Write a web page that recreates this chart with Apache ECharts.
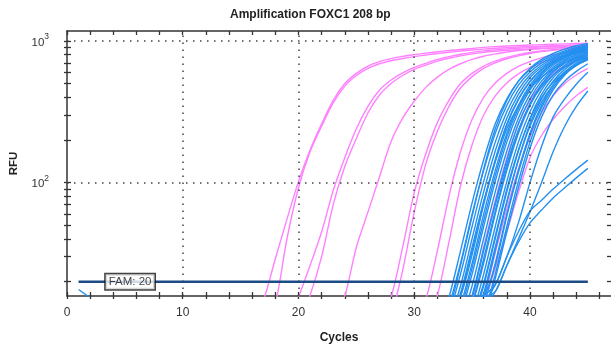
<!DOCTYPE html>
<html>
<head>
<meta charset="utf-8">
<script src="https://cdn.jsdelivr.net/npm/echarts@6/dist/echarts.min.js"></script>
<style>
  html, body { margin: 0; background: #fff; }
  #chart { width: 611px; height: 349px; }
</style>
</head>
<body>
<div id="chart"></div>
<script>
// axis ranges and ticks
const cycleMax = 47.0
const rfuMin = 15.84
const rfuMax = 1175
const cycleTicks = [0, 2, 4, 6, 8, 10, 12, 14, 16, 18, 20, 22, 24, 26, 28, 30, 32, 34, 36, 38, 40, 42, 44, 46]
const cycleLabels = [0, 10, 20, 30, 40]
const cycleGrid = [10, 20, 30, 40]
const rfuTicks = [20, 30, 40, 50, 60, 70, 80, 90, 100, 200, 300, 400, 500, 600, 700, 800, 900, 1000]
const rfuLabels = [100, 1000]
const rfuGrid = [100, 1000]

const threshold = 20
const thresholdFrom = 1
const thresholdTo = 45
const thresholdTag = 5.45

// pink wells: first cycle of each list, then RFU per cycle
const pinkStart = [16, 17, 19, 20, 23, 27, 28, 30, 31, 34, 35, 35]
const pinkRfu = [
  [10, 15, 29, 55, 102, 170, 260, 380, 500, 590, 665, 715, 750, 778, 800, 820, 838, 855, 870, 885, 900, 912, 920, 928, 935, 941, 947, 953, 959, 965],
  [9, 14, 40, 92, 165, 250, 365, 480, 570, 640, 690, 725, 752, 775, 795, 815, 832, 848, 862, 875, 887, 897, 905, 912, 918, 924, 930, 935, 940],
  [9, 15.5, 26, 45, 88, 150, 240, 345, 450, 530, 595, 650, 695, 740, 775, 805, 830, 850, 865, 878, 888, 897, 905, 912, 918, 924, 930],
  [10, 16, 30, 70, 130, 205, 310, 415, 500, 570, 630, 675, 720, 755, 785, 810, 830, 845, 858, 868, 877, 884, 890, 896, 901, 906],
  [10, 15.8, 35, 62, 110, 195, 285, 375, 470, 555, 630, 690, 740, 780, 810, 835, 855, 870, 882, 892, 900, 908, 915],
  [10, 15.5, 35, 85, 160, 265, 380, 500, 590, 665, 720, 765, 800, 828, 850, 868, 882, 893, 902],
  [11, 24, 62, 135, 230, 345, 465, 560, 640, 700, 748, 785, 815, 840, 858, 872, 884, 894],
  [10, 15, 33, 80, 165, 280, 400, 505, 590, 660, 715, 760, 795, 825, 848, 868],
  [10, 16, 38, 95, 185, 300, 410, 505, 585, 650, 705, 750, 788, 818, 842],
  [10, 15, 35, 75, 150, 260, 380, 490, 590, 670, 735, 790],
  [9, 15, 32, 65, 125, 210, 310, 410, 500, 575, 640],
  [10, 14, 25, 45, 85, 150, 215, 280, 345, 410, 470]
]

// blue wells
const blueStart = [1, 32, 32, 32, 33, 33, 33, 33, 34, 34, 34, 34, 35, 35, 35, 35, 32, 33, 33, 34, 34, 35, 35, 33, 35, 36, 36, 36, 35, 35]
const blueRfu = [
  [17.6, 15.4],
  [9, 15.5, 33, 72, 145, 260, 390, 520, 630, 720, 790, 850, 900, 945],
  [8, 13.5, 27, 60, 122, 223, 351, 487, 603, 697, 772, 834, 887, 934],
  [7, 11.7, 22.6, 49, 102, 193, 316, 452, 575, 674, 754, 819, 874, 923],
  [10.2, 18.7, 40.3, 86, 167, 285, 419, 550, 652, 736, 805, 862, 912],
  [9, 15.5, 33, 72, 145, 260, 390, 520, 630, 720, 790, 850, 900],
  [8, 13.5, 27, 60, 122, 223, 351, 487, 603, 697, 772, 834, 887],
  [7, 11.7, 22.6, 49, 102, 193, 316, 452, 575, 674, 754, 819, 874],
  [10.2, 18.7, 40.3, 86, 167, 285, 419, 550, 652, 736, 805, 862],
  [9, 15.5, 33, 72, 145, 260, 390, 520, 630, 720, 790, 850],
  [8, 13.5, 27, 60, 122, 223, 351, 487, 603, 697, 772, 834],
  [7, 11.7, 22.6, 49, 102, 193, 316, 452, 575, 674, 754, 819],
  [10.2, 18.7, 40.3, 86, 167, 285, 419, 550, 652, 736, 805],
  [9, 15.5, 33, 72, 145, 260, 390, 520, 630, 720, 790],
  [8, 13.5, 27, 60, 122, 223, 351, 487, 603, 697, 772],
  [7, 11.7, 22.6, 49, 102, 193, 316, 452, 575, 674, 754],
  [8, 12.5, 26, 58, 125, 240, 380, 520, 640, 740, 815, 875, 925, 960],
  [9.5, 16.5, 35, 74, 140, 240, 350, 460, 555, 635, 700, 752, 795],
  [7.5, 12.5, 25, 54, 112, 210, 335, 470, 590, 690, 765, 828, 880],
  [9.5, 16, 34, 70, 135, 235, 355, 475, 575, 655, 720, 775],
  [8.5, 14, 29, 63, 128, 232, 362, 495, 610, 700, 770, 830],
  [11, 19.5, 42, 90, 170, 280, 400, 510, 600, 675, 735],
  [9.5, 16.5, 35, 74, 145, 250, 370, 490, 590, 670, 740],
  [14, 16.2, 31, 70, 142, 255, 385, 515, 625, 712, 782, 842, 892],
  [14.5, 15.8, 26, 58, 118, 215, 338, 468, 585, 680, 755],
  [11, 21, 45, 92, 175, 290, 415, 520, 610, 690],
  [14, 19, 30, 52, 100, 180, 290, 390, 495, 600],
  [13, 17, 26, 40, 62, 100, 165, 250, 345, 443],
  [14.5, 16, 19, 30, 45, 63, 75, 90, 106, 124, 144],
  [14, 15.5, 17, 26, 38, 52, 64, 78, 92, 108, 126]
]

const pink = '#ff80ff'
const blue = '#2490f0'
const axisColor = '#333'
const font = 'Liberation Sans'

const curve = (start, rfu, color) => ({
  type: 'line',
  data: rfu.map((v, i) => [start + i, v]),
  symbol: 'none',
  smooth: 0.3,
  clip: true,
  silent: true,
  lineStyle: {color, width: 1.4},
  z: 2
})

const series = []
pinkRfu.forEach((r, i) => series.push(curve(pinkStart[i], r, pink)))
blueRfu.forEach((r, i) => series.push(curve(blueStart[i], r, blue)))

// dotted grid
series.push({
  type: 'line',
  data: [],
  silent: true,
  z: 1,
  markLine: {
    silent: true,
    symbol: 'none',
    label: {show: false},
    lineStyle: {color: '#444', type: [1.5, 5.5], width: 1.5},
    data: cycleGrid.map(c => ({xAxis: c})).concat(rfuGrid.map(v => ({yAxis: v})))
  }
})

// threshold
series.push({
  type: 'line',
  data: [[thresholdFrom, threshold], [thresholdTo, threshold]],
  symbol: 'none',
  silent: true,
  lineStyle: {color: '#1b4b85', width: 2.5},
  z: 5
})
series.push({
  type: 'scatter',
  data: [[thresholdTag, threshold]],
  symbol: 'rect',
  symbolSize: 1,
  itemStyle: {color: 'rgba(0,0,0,0)'},
  silent: true,
  z: 6,
  label: {
    show: true,
    position: 'inside',
    formatter: 'FAM: ' + threshold,
    fontFamily: font,
    fontSize: 11.5,
    color: '#111',
    backgroundColor: '#fff',
    borderColor: '#111',
    borderWidth: 1.5,
    padding: [2, 3, 1, 3]
  }
})

const tickStyle = {color: axisColor, width: 1.3}

const chart = echarts.init(document.getElementById('chart'))
chart.setOption({
  animation: false,
  title: {
    text: 'Amplification FOXC1 208 bp',
    left: 230,
    top: 9,
    padding: 0,
    textStyle: {fontFamily: font, fontSize: 12, fontWeight: 'bold', color: '#222'}
  },
  grid: {left: 67, right: 0, top: 31, bottom: 50},
  xAxis: [
    {
      type: 'value', min: 0, max: cycleMax, position: 'bottom',
      name: 'Cycles', nameLocation: 'middle', nameGap: 36,
      nameTextStyle: {fontFamily: font, fontSize: 12, fontWeight: 'bold', color: '#222'},
      axisLine: {show: true, onZero: false, lineStyle: {color: axisColor, width: 1.5}},
      axisTick: {show: true, inside: true, length: 4, customValues: cycleTicks, lineStyle: tickStyle},
      axisLabel: {customValues: cycleLabels, margin: 11, fontFamily: font, fontSize: 12, color: '#333'},
      splitLine: {show: false}
    },
    {
      type: 'value', min: 0, max: cycleMax, position: 'bottom',
      axisLine: {show: false, onZero: false},
      axisTick: {show: true, inside: false, length: 3, customValues: cycleTicks, lineStyle: tickStyle},
      axisLabel: {show: false},
      splitLine: {show: false}
    },
    {
      type: 'value', min: 0, max: cycleMax, position: 'top',
      axisLine: {show: true, onZero: false, lineStyle: {color: axisColor, width: 1.5}},
      axisTick: {show: true, inside: true, length: 4, customValues: cycleTicks, lineStyle: tickStyle},
      axisLabel: {show: false},
      splitLine: {show: false}
    }
  ],
  yAxis: [
    {
      type: 'log', logBase: 10, min: rfuMin, max: rfuMax, position: 'left',
      name: 'RFU', nameLocation: 'middle', nameGap: 47,
      nameTextStyle: {fontFamily: font, fontSize: 11.5, fontWeight: 'bold', color: '#222'},
      axisLine: {show: true, onZero: false, lineStyle: {color: axisColor, width: 1.5}},
      axisTick: {show: true, inside: true, length: 4, customValues: rfuTicks, lineStyle: tickStyle},
      axisLabel: {
        customValues: rfuLabels,
        margin: 18,
        formatter: v => '{a|10}{s|' + Math.round(Math.log10(v)) + '}',
        rich: {
          a: {fontFamily: font, fontSize: 11.5, color: '#333', padding: [3, 0, 0, 0]},
          s: {fontFamily: font, fontSize: 8.5, color: '#333', padding: [0, 0, 8, 0]}
        }
      },
      splitLine: {show: false}
    },
    {
      type: 'log', logBase: 10, min: rfuMin, max: rfuMax, position: 'left',
      axisLine: {show: false, onZero: false},
      axisTick: {show: true, inside: false, length: 3, customValues: rfuTicks, lineStyle: tickStyle},
      axisLabel: {show: false},
      splitLine: {show: false}
    },
    {
      type: 'log', logBase: 10, min: rfuMin, max: rfuMax, position: 'right',
      axisLine: {show: false, onZero: false},
      axisTick: {show: true, inside: true, length: 4, customValues: rfuTicks, lineStyle: tickStyle},
      axisLabel: {show: false},
      splitLine: {show: false}
    }
  ],
  series
})
</script>
</body>
</html>
